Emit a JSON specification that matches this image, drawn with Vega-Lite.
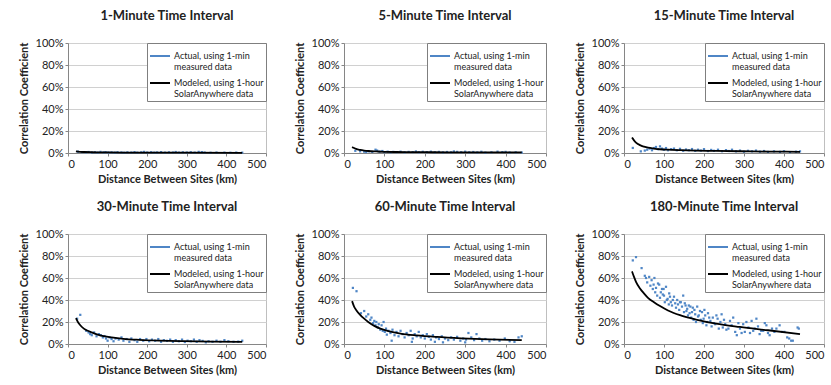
{
  "$schema": "https://vega.github.io/schema/vega-lite/v6.json",
  "padding": {"left": 17, "top": 9, "right": 0, "bottom": 0},
  "background": "white",
  "config": {
    "font": "Lato",
    "view": {"stroke": "#bfbfbf", "strokeWidth": 1},
    "axis": {"labelFont": "Lato", "labelFontSize": 11, "labelColor": "#222", "titleFont": "Lato", "titleFontSize": 11, "titleFontWeight": "bold", "titleColor": "#222", "domainColor": "#868686", "tickColor": "#868686", "tickSize": 3, "gridColor": "#d0d0d0", "labelOverlap": false},
    "axisX": {"grid": false, "titlePadding": 4},
    "axisY": {"titlePadding": 6},
    "title": {"fontSize": 13, "fontWeight": "bold", "font": "Lato", "color": "#222", "offset": 14},
    "legend": {"orient": "top-right", "offset": 0, "strokeColor": "#7f7f7f", "fillColor": "white", "padding": 2, "labelFont": "Lato", "labelFontSize": 9, "labelColor": "#222", "labelLimit": 200, "symbolType": "stroke", "symbolSize": 400, "symbolStrokeWidth": 2, "rowPadding": 0, "labelOffset": 3}
  },
  "datasets": {
    "actual": [
      {"i":1,"d":25,"r":0.012},{"i":1,"d":35,"r":0.008},{"i":1,"d":45,"r":0.006},{"i":1,"d":52,"r":0.009},{"i":1,"d":60,"r":0.004},{"i":1,"d":68,"r":0.007},{"i":1,"d":75,"r":0.003},{"i":1,"d":82,"r":0.010},{"i":1,"d":90,"r":0.005},{"i":1,"d":95,"r":0.008},{"i":1,"d":102,"r":0.004},{"i":1,"d":110,"r":0.006},{"i":1,"d":118,"r":0.003},{"i":1,"d":125,"r":0.007},{"i":1,"d":135,"r":0.005},{"i":1,"d":142,"r":0.002},{"i":1,"d":150,"r":0.006},{"i":1,"d":160,"r":0.004},{"i":1,"d":168,"r":0.008},{"i":1,"d":175,"r":0.003},{"i":1,"d":185,"r":0.006},{"i":1,"d":192,"r":0.010},{"i":1,"d":200,"r":0.004},{"i":1,"d":210,"r":0.007},{"i":1,"d":218,"r":0.003},{"i":1,"d":225,"r":0.005},{"i":1,"d":235,"r":0.008},{"i":1,"d":245,"r":0.003},{"i":1,"d":255,"r":0.006},{"i":1,"d":265,"r":0.004},{"i":1,"d":272,"r":0.009},{"i":1,"d":280,"r":0.003},{"i":1,"d":290,"r":0.006},{"i":1,"d":300,"r":0.004},{"i":1,"d":310,"r":0.007},{"i":1,"d":320,"r":0.003},{"i":1,"d":330,"r":0.010},{"i":1,"d":338,"r":0.008},{"i":1,"d":345,"r":0.004},{"i":1,"d":360,"r":0.002},{"i":1,"d":375,"r":0.004},{"i":1,"d":395,"r":0.003},{"i":1,"d":410,"r":0.002},{"i":1,"d":425,"r":0.004},{"i":1,"d":440,"r":0.003},
      {"i":5,"d":28,"r":0.02},{"i":5,"d":40,"r":0.015},{"i":5,"d":50,"r":0.012},{"i":5,"d":55,"r":0.008},{"i":5,"d":62,"r":0.015},{"i":5,"d":70,"r":0.01},{"i":5,"d":78,"r":0.03},{"i":5,"d":82,"r":0.022},{"i":5,"d":88,"r":0.012},{"i":5,"d":95,"r":0.018},{"i":5,"d":100,"r":0.008},{"i":5,"d":108,"r":0.012},{"i":5,"d":115,"r":0.006},{"i":5,"d":122,"r":0.01},{"i":5,"d":130,"r":0.008},{"i":5,"d":140,"r":0.012},{"i":5,"d":150,"r":0.006},{"i":5,"d":160,"r":0.01},{"i":5,"d":170,"r":0.008},{"i":5,"d":178,"r":0.014},{"i":5,"d":185,"r":0.006},{"i":5,"d":195,"r":0.011},{"i":5,"d":205,"r":0.008},{"i":5,"d":215,"r":0.012},{"i":5,"d":225,"r":0.006},{"i":5,"d":235,"r":0.01},{"i":5,"d":245,"r":0.005},{"i":5,"d":255,"r":0.009},{"i":5,"d":265,"r":0.006},{"i":5,"d":272,"r":0.014},{"i":5,"d":280,"r":0.01},{"i":5,"d":290,"r":0.007},{"i":5,"d":300,"r":0.012},{"i":5,"d":310,"r":0.006},{"i":5,"d":320,"r":0.009},{"i":5,"d":330,"r":0.005},{"i":5,"d":340,"r":0.011},{"i":5,"d":350,"r":0.003},{"i":5,"d":365,"r":0.006},{"i":5,"d":380,"r":0.012},{"i":5,"d":392,"r":0.008},{"i":5,"d":400,"r":0.01},{"i":5,"d":410,"r":0.004},{"i":5,"d":425,"r":0.006},{"i":5,"d":440,"r":0.004},
      {"i":15,"d":22,"r":0.046},{"i":15,"d":42,"r":0.015},{"i":15,"d":52,"r":0.022},{"i":15,"d":58,"r":0.03},{"i":15,"d":64,"r":0.04},{"i":15,"d":70,"r":0.025},{"i":15,"d":75,"r":0.045},{"i":15,"d":80,"r":0.055},{"i":15,"d":85,"r":0.035},{"i":15,"d":90,"r":0.06},{"i":15,"d":95,"r":0.04},{"i":15,"d":100,"r":0.03},{"i":15,"d":105,"r":0.045},{"i":15,"d":110,"r":0.025},{"i":15,"d":118,"r":0.035},{"i":15,"d":125,"r":0.04},{"i":15,"d":132,"r":0.025},{"i":15,"d":140,"r":0.038},{"i":15,"d":148,"r":0.02},{"i":15,"d":155,"r":0.032},{"i":15,"d":162,"r":0.025},{"i":15,"d":170,"r":0.036},{"i":15,"d":178,"r":0.02},{"i":15,"d":185,"r":0.03},{"i":15,"d":192,"r":0.022},{"i":15,"d":200,"r":0.035},{"i":15,"d":210,"r":0.018},{"i":15,"d":218,"r":0.028},{"i":15,"d":225,"r":0.02},{"i":15,"d":235,"r":0.03},{"i":15,"d":245,"r":0.016},{"i":15,"d":255,"r":0.026},{"i":15,"d":262,"r":0.018},{"i":15,"d":270,"r":0.03},{"i":15,"d":280,"r":0.015},{"i":15,"d":290,"r":0.022},{"i":15,"d":300,"r":0.012},{"i":15,"d":310,"r":0.02},{"i":15,"d":320,"r":0.015},{"i":15,"d":330,"r":0.022},{"i":15,"d":340,"r":0.012},{"i":15,"d":350,"r":0.018},{"i":15,"d":360,"r":0.01},{"i":15,"d":375,"r":0.015},{"i":15,"d":390,"r":0.01},{"i":15,"d":400,"r":0.016},{"i":15,"d":415,"r":0.008},{"i":15,"d":430,"r":0.012},{"i":15,"d":440,"r":0.015},
      {"i":30,"d":23,"r":0.23},{"i":30,"d":31,"r":0.265},{"i":30,"d":46,"r":0.12},{"i":30,"d":52,"r":0.105},{"i":30,"d":56,"r":0.09},{"i":30,"d":60,"r":0.08},{"i":30,"d":66,"r":0.105},{"i":30,"d":72,"r":0.07},{"i":30,"d":78,"r":0.09},{"i":30,"d":83,"r":0.08},{"i":30,"d":88,"r":0.06},{"i":30,"d":92,"r":0.072},{"i":30,"d":96,"r":0.05},{"i":30,"d":100,"r":0.03},{"i":30,"d":105,"r":0.06},{"i":30,"d":110,"r":0.045},{"i":30,"d":115,"r":0.025},{"i":30,"d":120,"r":0.05},{"i":30,"d":128,"r":0.04},{"i":30,"d":135,"r":0.06},{"i":30,"d":140,"r":0.03},{"i":30,"d":148,"r":0.045},{"i":30,"d":155,"r":0.02},{"i":30,"d":160,"r":0.05},{"i":30,"d":168,"r":0.035},{"i":30,"d":175,"r":0.02},{"i":30,"d":182,"r":0.045},{"i":30,"d":190,"r":0.03},{"i":30,"d":198,"r":0.045},{"i":30,"d":205,"r":0.025},{"i":30,"d":212,"r":0.04},{"i":30,"d":220,"r":0.03},{"i":30,"d":228,"r":0.045},{"i":30,"d":235,"r":0.02},{"i":30,"d":242,"r":0.035},{"i":30,"d":250,"r":0.028},{"i":30,"d":258,"r":0.04},{"i":30,"d":265,"r":0.02},{"i":30,"d":272,"r":0.035},{"i":30,"d":280,"r":0.025},{"i":30,"d":288,"r":0.04},{"i":30,"d":295,"r":0.018},{"i":30,"d":302,"r":0.03},{"i":30,"d":310,"r":0.025},{"i":30,"d":318,"r":0.04},{"i":30,"d":325,"r":0.02},{"i":30,"d":332,"r":0.035},{"i":30,"d":340,"r":0.028},{"i":30,"d":348,"r":0.015},{"i":30,"d":355,"r":0.025},{"i":30,"d":365,"r":0.02},{"i":30,"d":375,"r":0.03},{"i":30,"d":385,"r":0.02},{"i":30,"d":395,"r":0.035},{"i":30,"d":405,"r":0.025},{"i":30,"d":418,"r":0.02},{"i":30,"d":430,"r":0.022},{"i":30,"d":440,"r":0.03},
      {"i":60,"d":22,"r":0.51},{"i":60,"d":31,"r":0.48},{"i":60,"d":42,"r":0.28},{"i":60,"d":50,"r":0.3},{"i":60,"d":55,"r":0.25},{"i":60,"d":60,"r":0.27},{"i":60,"d":65,"r":0.22},{"i":60,"d":68,"r":0.24},{"i":60,"d":72,"r":0.19},{"i":60,"d":75,"r":0.21},{"i":60,"d":78,"r":0.17},{"i":60,"d":80,"r":0.2},{"i":60,"d":84,"r":0.15},{"i":60,"d":86,"r":0.18},{"i":60,"d":90,"r":0.13},{"i":60,"d":93,"r":0.17},{"i":60,"d":96,"r":0.12},{"i":60,"d":98,"r":0.2},{"i":60,"d":101,"r":0.11},{"i":60,"d":104,"r":0.14},{"i":60,"d":106,"r":0.085},{"i":60,"d":110,"r":0.12},{"i":60,"d":115,"r":0.1},{"i":60,"d":118,"r":0.03},{"i":60,"d":120,"r":0.13},{"i":60,"d":125,"r":0.08},{"i":60,"d":130,"r":0.11},{"i":60,"d":135,"r":0.07},{"i":60,"d":140,"r":0.12},{"i":60,"d":145,"r":0.09},{"i":60,"d":150,"r":0.06},{"i":60,"d":155,"r":0.1},{"i":60,"d":160,"r":0.08},{"i":60,"d":165,"r":0.12},{"i":60,"d":168,"r":0.02},{"i":60,"d":170,"r":0.05},{"i":60,"d":175,"r":0.09},{"i":60,"d":180,"r":0.07},{"i":60,"d":185,"r":0.11},{"i":60,"d":190,"r":0.06},{"i":60,"d":195,"r":0.08},{"i":60,"d":200,"r":0.05},{"i":60,"d":205,"r":0.09},{"i":60,"d":210,"r":0.065},{"i":60,"d":215,"r":0.04},{"i":60,"d":220,"r":0.08},{"i":60,"d":225,"r":0.02},{"i":60,"d":228,"r":0.06},{"i":60,"d":235,"r":0.045},{"i":60,"d":242,"r":0.07},{"i":60,"d":245,"r":0.015},{"i":60,"d":250,"r":0.05},{"i":60,"d":258,"r":0.035},{"i":60,"d":265,"r":0.06},{"i":60,"d":272,"r":0.04},{"i":60,"d":280,"r":0.065},{"i":60,"d":288,"r":0.03},{"i":60,"d":295,"r":0.05},{"i":60,"d":300,"r":0.015},{"i":60,"d":302,"r":0.04},{"i":60,"d":308,"r":0.1},{"i":60,"d":315,"r":0.06},{"i":60,"d":322,"r":0.035},{"i":60,"d":328,"r":0.09},{"i":60,"d":335,"r":0.05},{"i":60,"d":342,"r":0.03},{"i":60,"d":350,"r":0.045},{"i":60,"d":360,"r":0.025},{"i":60,"d":372,"r":0.04},{"i":60,"d":385,"r":0.03},{"i":60,"d":398,"r":0.05},{"i":60,"d":410,"r":0.025},{"i":60,"d":422,"r":0.02},{"i":60,"d":432,"r":0.06},{"i":60,"d":440,"r":0.07},
      {"i":180,"d":22,"r":0.76},{"i":180,"d":30,"r":0.79},{"i":180,"d":44,"r":0.69},{"i":180,"d":52,"r":0.62},{"i":180,"d":55,"r":0.6},{"i":180,"d":58,"r":0.56},{"i":180,"d":63,"r":0.61},{"i":180,"d":66,"r":0.53},{"i":180,"d":69,"r":0.58},{"i":180,"d":72,"r":0.5},{"i":180,"d":74,"r":0.54},{"i":180,"d":76,"r":0.6},{"i":180,"d":78,"r":0.47},{"i":180,"d":80,"r":0.51},{"i":180,"d":83,"r":0.44},{"i":180,"d":85,"r":0.55},{"i":180,"d":88,"r":0.54},{"i":180,"d":90,"r":0.42},{"i":180,"d":92,"r":0.47},{"i":180,"d":95,"r":0.5},{"i":180,"d":97,"r":0.45},{"i":180,"d":99,"r":0.5},{"i":180,"d":100,"r":0.44},{"i":180,"d":102,"r":0.38},{"i":180,"d":105,"r":0.52},{"i":180,"d":107,"r":0.4},{"i":180,"d":109,"r":0.41},{"i":180,"d":112,"r":0.36},{"i":180,"d":113,"r":0.46},{"i":180,"d":115,"r":0.43},{"i":180,"d":117,"r":0.38},{"i":180,"d":120,"r":0.35},{"i":180,"d":122,"r":0.4},{"i":180,"d":125,"r":0.43},{"i":180,"d":128,"r":0.37},{"i":180,"d":130,"r":0.33},{"i":180,"d":133,"r":0.4},{"i":180,"d":135,"r":0.36},{"i":180,"d":138,"r":0.31},{"i":180,"d":140,"r":0.38},{"i":180,"d":142,"r":0.38},{"i":180,"d":145,"r":0.34},{"i":180,"d":148,"r":0.44},{"i":180,"d":150,"r":0.29},{"i":180,"d":152,"r":0.37},{"i":180,"d":154,"r":0.35},{"i":180,"d":156,"r":0.3},{"i":180,"d":158,"r":0.32},{"i":180,"d":160,"r":0.26},{"i":180,"d":162,"r":0.35},{"i":180,"d":164,"r":0.28},{"i":180,"d":166,"r":0.34},{"i":180,"d":168,"r":0.24},{"i":180,"d":170,"r":0.29},{"i":180,"d":172,"r":0.33},{"i":180,"d":174,"r":0.22},{"i":180,"d":176,"r":0.31},{"i":180,"d":178,"r":0.27},{"i":180,"d":180,"r":0.2},{"i":180,"d":183,"r":0.34},{"i":180,"d":185,"r":0.25},{"i":180,"d":187,"r":0.26},{"i":180,"d":190,"r":0.3},{"i":180,"d":192,"r":0.22},{"i":180,"d":195,"r":0.29},{"i":180,"d":197,"r":0.19},{"i":180,"d":199,"r":0.23},{"i":180,"d":201,"r":0.31},{"i":180,"d":203,"r":0.26},{"i":180,"d":206,"r":0.17},{"i":180,"d":208,"r":0.2},{"i":180,"d":210,"r":0.28},{"i":180,"d":213,"r":0.24},{"i":180,"d":216,"r":0.21},{"i":180,"d":219,"r":0.16},{"i":180,"d":222,"r":0.24},{"i":180,"d":225,"r":0.19},{"i":180,"d":228,"r":0.18},{"i":180,"d":231,"r":0.26},{"i":180,"d":234,"r":0.23},{"i":180,"d":237,"r":0.14},{"i":180,"d":241,"r":0.2},{"i":180,"d":244,"r":0.27},{"i":180,"d":247,"r":0.15},{"i":180,"d":250,"r":0.22},{"i":180,"d":253,"r":0.18},{"i":180,"d":256,"r":0.13},{"i":180,"d":261,"r":0.14},{"i":180,"d":265,"r":0.21},{"i":180,"d":269,"r":0.17},{"i":180,"d":273,"r":0.24},{"i":180,"d":278,"r":0.11},{"i":180,"d":282,"r":0.08},{"i":180,"d":286,"r":0.19},{"i":180,"d":290,"r":0.14},{"i":180,"d":294,"r":0.1},{"i":180,"d":298,"r":0.18},{"i":180,"d":302,"r":0.11},{"i":180,"d":306,"r":0.2},{"i":180,"d":311,"r":0.15},{"i":180,"d":315,"r":0.1},{"i":180,"d":319,"r":0.21},{"i":180,"d":323,"r":0.12},{"i":180,"d":327,"r":0.14},{"i":180,"d":331,"r":0.23},{"i":180,"d":335,"r":0.16},{"i":180,"d":339,"r":0.09},{"i":180,"d":343,"r":0.12},{"i":180,"d":348,"r":0.12},{"i":180,"d":352,"r":0.19},{"i":180,"d":356,"r":0.17},{"i":180,"d":360,"r":0.1},{"i":180,"d":364,"r":0.08},{"i":180,"d":370,"r":0.14},{"i":180,"d":376,"r":0.11},{"i":180,"d":381,"r":0.14},{"i":180,"d":389,"r":0.17},{"i":180,"d":395,"r":0.11},{"i":180,"d":401,"r":0.11},{"i":180,"d":408,"r":0.06},{"i":180,"d":413,"r":0.05},{"i":180,"d":418,"r":0.03},{"i":180,"d":422,"r":0.03},{"i":180,"d":434,"r":0.15},{"i":180,"d":437,"r":0.14}
    ],
    "model": [
      {"i":1,"d":20,"r":0.015},{"i":1,"d":30,"r":0.011},{"i":1,"d":40,"r":0.009},{"i":1,"d":60,"r":0.007},{"i":1,"d":80,"r":0.006},{"i":1,"d":100,"r":0.005},{"i":1,"d":150,"r":0.004},{"i":1,"d":200,"r":0.0035},{"i":1,"d":300,"r":0.003},{"i":1,"d":440,"r":0.002},
      {"i":5,"d":20,"r":0.055},{"i":5,"d":25,"r":0.045},{"i":5,"d":30,"r":0.037},{"i":5,"d":40,"r":0.028},{"i":5,"d":50,"r":0.022},{"i":5,"d":60,"r":0.018},{"i":5,"d":80,"r":0.014},{"i":5,"d":100,"r":0.011},{"i":5,"d":130,"r":0.009},{"i":5,"d":170,"r":0.008},{"i":5,"d":220,"r":0.007},{"i":5,"d":300,"r":0.006},{"i":5,"d":370,"r":0.005},{"i":5,"d":440,"r":0.005},
      {"i":15,"d":20,"r":0.14},{"i":15,"d":25,"r":0.115},{"i":15,"d":30,"r":0.095},{"i":15,"d":40,"r":0.072},{"i":15,"d":50,"r":0.058},{"i":15,"d":60,"r":0.048},{"i":15,"d":75,"r":0.04},{"i":15,"d":90,"r":0.034},{"i":15,"d":110,"r":0.03},{"i":15,"d":140,"r":0.026},{"i":15,"d":180,"r":0.022},{"i":15,"d":230,"r":0.019},{"i":15,"d":290,"r":0.016},{"i":15,"d":360,"r":0.013},{"i":15,"d":440,"r":0.011},
      {"i":30,"d":20,"r":0.235},{"i":30,"d":25,"r":0.2},{"i":30,"d":30,"r":0.175},{"i":30,"d":40,"r":0.14},{"i":30,"d":50,"r":0.12},{"i":30,"d":60,"r":0.105},{"i":30,"d":75,"r":0.085},{"i":30,"d":90,"r":0.072},{"i":30,"d":110,"r":0.06},{"i":30,"d":140,"r":0.047},{"i":30,"d":180,"r":0.038},{"i":30,"d":230,"r":0.031},{"i":30,"d":290,"r":0.026},{"i":30,"d":360,"r":0.022},{"i":30,"d":440,"r":0.019},
      {"i":60,"d":20,"r":0.39},{"i":60,"d":25,"r":0.34},{"i":60,"d":30,"r":0.31},{"i":60,"d":40,"r":0.265},{"i":60,"d":50,"r":0.23},{"i":60,"d":60,"r":0.2},{"i":60,"d":75,"r":0.165},{"i":60,"d":90,"r":0.14},{"i":60,"d":110,"r":0.118},{"i":60,"d":140,"r":0.095},{"i":60,"d":180,"r":0.078},{"i":60,"d":230,"r":0.064},{"i":60,"d":290,"r":0.052},{"i":60,"d":360,"r":0.042},{"i":60,"d":440,"r":0.035},
      {"i":180,"d":20,"r":0.66},{"i":180,"d":25,"r":0.61},{"i":180,"d":30,"r":0.565},{"i":180,"d":40,"r":0.505},{"i":180,"d":50,"r":0.46},{"i":180,"d":60,"r":0.42},{"i":180,"d":75,"r":0.38},{"i":180,"d":90,"r":0.345},{"i":180,"d":110,"r":0.305},{"i":180,"d":140,"r":0.262},{"i":180,"d":180,"r":0.222},{"i":180,"d":230,"r":0.185},{"i":180,"d":290,"r":0.155},{"i":180,"d":360,"r":0.125},{"i":180,"d":440,"r":0.09}
    ]
  },
  "spacing": 15,
  "resolve": {"scale": {"color": "independent"}, "legend": {"color": "independent"}},
  "vconcat": [
    {
      "spacing": 78,
      "bounds": "flush",
      "resolve": {"scale": {"color": "independent"}, "legend": {"color": "independent"}},
      "hconcat": [
        {"title": "1-Minute Time Interval", "width": 198, "height": 110, "layer": [
          {"data": {"name": "actual"}, "transform": [{"filter": "datum.i == 1"}], "mark": {"type": "point", "shape": "square", "filled": true, "size": 5, "opacity": 1}, "encoding": {"x": {"field": "d", "type": "quantitative", "scale": {"domain": [0, 500]}, "axis": {"values": [0, 100, 200, 300, 400, 500], "tickCount": 6}, "title": "Distance Between Sites (km)"}, "y": {"field": "r", "type": "quantitative", "scale": {"domain": [0, 1]}, "axis": {"values": [0, 0.2, 0.4, 0.6, 0.8, 1], "tickCount": 6, "format": ".0%", "grid": true}, "title": "Correlation Coefficient"}, "color": {"datum": "Actual, using 1-min measured data", "scale": {"domain": ["Actual, using 1-min measured data", "Modeled, using 1-hour SolarAnywhere data"], "range": ["#4f86c6", "#000000"]}, "legend": {"title": null, "labelExpr": "datum.label == 'Actual, using 1-min measured data' ? ['Actual, using 1-min', 'measured data'] : ['Modeled, using 1-hour', 'SolarAnywhere data']"}}}},
          {"data": {"name": "model"}, "transform": [{"filter": "datum.i == 1"}], "mark": {"type": "line", "strokeWidth": 1.8, "interpolate": "monotone"}, "encoding": {"x": {"field": "d", "type": "quantitative"}, "y": {"field": "r", "type": "quantitative"}, "color": {"datum": "Modeled, using 1-hour SolarAnywhere data"}}}
        ]},
        {"title": "5-Minute Time Interval", "width": 202, "height": 110, "layer": [
          {"data": {"name": "actual"}, "transform": [{"filter": "datum.i == 5"}], "mark": {"type": "point", "shape": "square", "filled": true, "size": 5, "opacity": 1}, "encoding": {"x": {"field": "d", "type": "quantitative", "scale": {"domain": [0, 500]}, "axis": {"values": [0, 100, 200, 300, 400, 500], "tickCount": 6}, "title": "Distance Between Sites (km)"}, "y": {"field": "r", "type": "quantitative", "scale": {"domain": [0, 1]}, "axis": {"values": [0, 0.2, 0.4, 0.6, 0.8, 1], "tickCount": 6, "format": ".0%", "grid": true}, "title": "Correlation Coefficient"}, "color": {"datum": "Actual, using 1-min measured data", "scale": {"domain": ["Actual, using 1-min measured data", "Modeled, using 1-hour SolarAnywhere data"], "range": ["#4f86c6", "#000000"]}, "legend": {"title": null, "labelExpr": "datum.label == 'Actual, using 1-min measured data' ? ['Actual, using 1-min', 'measured data'] : ['Modeled, using 1-hour', 'SolarAnywhere data']"}}}},
          {"data": {"name": "model"}, "transform": [{"filter": "datum.i == 5"}], "mark": {"type": "line", "strokeWidth": 1.8, "interpolate": "monotone"}, "encoding": {"x": {"field": "d", "type": "quantitative"}, "y": {"field": "r", "type": "quantitative"}, "color": {"datum": "Modeled, using 1-hour SolarAnywhere data"}}}
        ]},
        {"title": "15-Minute Time Interval", "width": 200, "height": 110, "layer": [
          {"data": {"name": "actual"}, "transform": [{"filter": "datum.i == 15"}], "mark": {"type": "point", "shape": "square", "filled": true, "size": 5, "opacity": 1}, "encoding": {"x": {"field": "d", "type": "quantitative", "scale": {"domain": [0, 500]}, "axis": {"values": [0, 100, 200, 300, 400, 500], "tickCount": 6}, "title": "Distance Between Sites (km)"}, "y": {"field": "r", "type": "quantitative", "scale": {"domain": [0, 1]}, "axis": {"values": [0, 0.2, 0.4, 0.6, 0.8, 1], "tickCount": 6, "format": ".0%", "grid": true}, "title": "Correlation Coefficient"}, "color": {"datum": "Actual, using 1-min measured data", "scale": {"domain": ["Actual, using 1-min measured data", "Modeled, using 1-hour SolarAnywhere data"], "range": ["#4f86c6", "#000000"]}, "legend": {"title": null, "labelExpr": "datum.label == 'Actual, using 1-min measured data' ? ['Actual, using 1-min', 'measured data'] : ['Modeled, using 1-hour', 'SolarAnywhere data']"}}}},
          {"data": {"name": "model"}, "transform": [{"filter": "datum.i == 15"}], "mark": {"type": "line", "strokeWidth": 1.8, "interpolate": "monotone"}, "encoding": {"x": {"field": "d", "type": "quantitative"}, "y": {"field": "r", "type": "quantitative"}, "color": {"datum": "Modeled, using 1-hour SolarAnywhere data"}}}
        ]}
      ]
    },
    {
      "spacing": 78,
      "bounds": "flush",
      "resolve": {"scale": {"color": "independent"}, "legend": {"color": "independent"}},
      "hconcat": [
        {"title": "30-Minute Time Interval", "width": 198, "height": 110, "layer": [
          {"data": {"name": "actual"}, "transform": [{"filter": "datum.i == 30"}], "mark": {"type": "point", "shape": "square", "filled": true, "size": 5, "opacity": 1}, "encoding": {"x": {"field": "d", "type": "quantitative", "scale": {"domain": [0, 500]}, "axis": {"values": [0, 100, 200, 300, 400, 500], "tickCount": 6}, "title": "Distance Between Sites (km)"}, "y": {"field": "r", "type": "quantitative", "scale": {"domain": [0, 1]}, "axis": {"values": [0, 0.2, 0.4, 0.6, 0.8, 1], "tickCount": 6, "format": ".0%", "grid": true}, "title": "Correlation Coefficient"}, "color": {"datum": "Actual, using 1-min measured data", "scale": {"domain": ["Actual, using 1-min measured data", "Modeled, using 1-hour SolarAnywhere data"], "range": ["#4f86c6", "#000000"]}, "legend": {"title": null, "labelExpr": "datum.label == 'Actual, using 1-min measured data' ? ['Actual, using 1-min', 'measured data'] : ['Modeled, using 1-hour', 'SolarAnywhere data']"}}}},
          {"data": {"name": "model"}, "transform": [{"filter": "datum.i == 30"}], "mark": {"type": "line", "strokeWidth": 1.8, "interpolate": "monotone"}, "encoding": {"x": {"field": "d", "type": "quantitative"}, "y": {"field": "r", "type": "quantitative"}, "color": {"datum": "Modeled, using 1-hour SolarAnywhere data"}}}
        ]},
        {"title": "60-Minute Time Interval", "width": 202, "height": 110, "layer": [
          {"data": {"name": "actual"}, "transform": [{"filter": "datum.i == 60"}], "mark": {"type": "point", "shape": "square", "filled": true, "size": 5, "opacity": 1}, "encoding": {"x": {"field": "d", "type": "quantitative", "scale": {"domain": [0, 500]}, "axis": {"values": [0, 100, 200, 300, 400, 500], "tickCount": 6}, "title": "Distance Between Sites (km)"}, "y": {"field": "r", "type": "quantitative", "scale": {"domain": [0, 1]}, "axis": {"values": [0, 0.2, 0.4, 0.6, 0.8, 1], "tickCount": 6, "format": ".0%", "grid": true}, "title": "Correlation Coefficient"}, "color": {"datum": "Actual, using 1-min measured data", "scale": {"domain": ["Actual, using 1-min measured data", "Modeled, using 1-hour SolarAnywhere data"], "range": ["#4f86c6", "#000000"]}, "legend": {"title": null, "labelExpr": "datum.label == 'Actual, using 1-min measured data' ? ['Actual, using 1-min', 'measured data'] : ['Modeled, using 1-hour', 'SolarAnywhere data']"}}}},
          {"data": {"name": "model"}, "transform": [{"filter": "datum.i == 60"}], "mark": {"type": "line", "strokeWidth": 1.8, "interpolate": "monotone"}, "encoding": {"x": {"field": "d", "type": "quantitative"}, "y": {"field": "r", "type": "quantitative"}, "color": {"datum": "Modeled, using 1-hour SolarAnywhere data"}}}
        ]},
        {"title": "180-Minute Time Interval", "width": 200, "height": 110, "layer": [
          {"data": {"name": "actual"}, "transform": [{"filter": "datum.i == 180"}], "mark": {"type": "point", "shape": "square", "filled": true, "size": 5, "opacity": 1}, "encoding": {"x": {"field": "d", "type": "quantitative", "scale": {"domain": [0, 500]}, "axis": {"values": [0, 100, 200, 300, 400, 500], "tickCount": 6}, "title": "Distance Between Sites (km)"}, "y": {"field": "r", "type": "quantitative", "scale": {"domain": [0, 1]}, "axis": {"values": [0, 0.2, 0.4, 0.6, 0.8, 1], "tickCount": 6, "format": ".0%", "grid": true}, "title": "Correlation Coefficient"}, "color": {"datum": "Actual, using 1-min measured data", "scale": {"domain": ["Actual, using 1-min measured data", "Modeled, using 1-hour SolarAnywhere data"], "range": ["#4f86c6", "#000000"]}, "legend": {"title": null, "labelExpr": "datum.label == 'Actual, using 1-min measured data' ? ['Actual, using 1-min', 'measured data'] : ['Modeled, using 1-hour', 'SolarAnywhere data']"}}}},
          {"data": {"name": "model"}, "transform": [{"filter": "datum.i == 180"}], "mark": {"type": "line", "strokeWidth": 1.8, "interpolate": "monotone"}, "encoding": {"x": {"field": "d", "type": "quantitative"}, "y": {"field": "r", "type": "quantitative"}, "color": {"datum": "Modeled, using 1-hour SolarAnywhere data"}}}
        ]}
      ]
    }
  ]
}
